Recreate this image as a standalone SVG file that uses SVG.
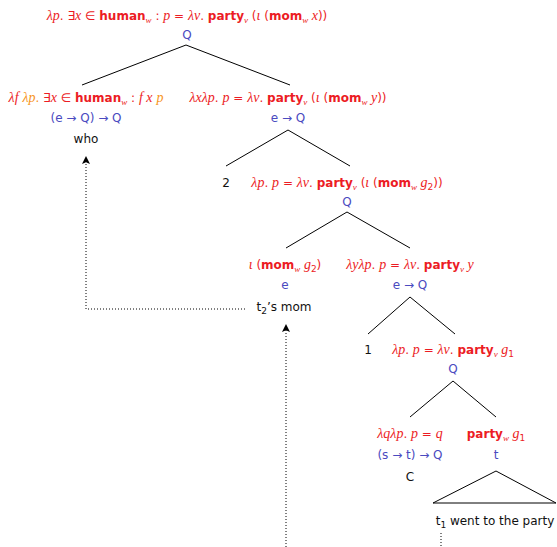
<svg xmlns="http://www.w3.org/2000/svg" width="557" height="547" viewBox="0 0 557 547">
<defs>
<marker id="ah" viewBox="0 0 8 8" refX="7" refY="4" markerWidth="8" markerHeight="8" markerUnits="userSpaceOnUse" orient="auto">
<path d="M0,0 L8,4 L0,8 L1.8,4 Z" fill="#000"/>
</marker>
</defs>
<style>
text { font-family: "DejaVu Sans", "Liberation Sans", sans-serif; font-size: 12px; }
.r { fill: #ec1c24; }
.t { fill: #4a4ac0; }
.k { fill: #111; }
.o { fill: #f7941d; }
.i { font-family: "Liberation Serif", "DejaVu Serif", serif; font-style: italic; font-size: 14px; }
.b { font-weight: bold; }
.s { font-size: 9px; }
.tree line { stroke: #000; stroke-width: 1; fill: none; }
.dot { stroke: #000; stroke-width: 1; stroke-dasharray: 1 2; fill: none; }
</style>

<g id="connectors">
<g class="tree">
<line x1="186" y1="45" x2="82" y2="85"/>
<line x1="186" y1="45" x2="290" y2="85"/>
<line x1="288" y1="130" x2="226" y2="166"/>
<line x1="288" y1="130" x2="350" y2="166"/>
<line x1="347" y1="212" x2="286" y2="248"/>
<line x1="347" y1="212" x2="410" y2="248"/>
<line x1="410" y1="297" x2="368" y2="334"/>
<line x1="410" y1="297" x2="455" y2="334"/>
<line x1="453" y1="381" x2="410" y2="417"/>
<line x1="453" y1="381" x2="496" y2="417"/>
<polygon points="496,471 433,503 556,503" fill="none" stroke="#000" stroke-width="1"/>
</g>
<polyline class="dot" points="245,309 86,309 86,157" marker-end="url(#ah)"/>
<line class="dot" x1="286" y1="547" x2="286" y2="325" marker-end="url(#ah)"/>
<line class="dot" x1="441" y1="533" x2="441" y2="547"/>
</g>

<g id="root">
<text class="r" x="187" y="20" text-anchor="middle"><tspan class="i">λp</tspan>. ∃<tspan class="i">x</tspan> ∈ <tspan class="b">human</tspan><tspan class="s i" dy="3">w</tspan><tspan dy="-3"> : </tspan><tspan class="i">p</tspan> = <tspan class="i">λv</tspan>. <tspan class="b">party</tspan><tspan class="s i" dy="3">v</tspan><tspan dy="-3"> (</tspan><tspan class="i">ι</tspan> (<tspan class="b">mom</tspan><tspan class="s i" dy="3">w</tspan><tspan dy="-3" class="i"> x</tspan>))</text>
<text class="t" x="187" y="39" text-anchor="middle">Q</text>
</g>

<g id="who">
<text class="r" x="86" y="102" text-anchor="middle"><tspan class="i">λf</tspan> <tspan class="i o">λp</tspan><tspan class="o">.</tspan> ∃<tspan class="i">x</tspan> ∈ <tspan class="b">human</tspan><tspan class="s i" dy="3">w</tspan><tspan dy="-3"> : </tspan><tspan class="i">f x</tspan> <tspan class="i o">p</tspan></text>
<text class="t" x="86" y="122" text-anchor="middle">(e → Q) → Q</text>
<text class="k" x="86" y="143" text-anchor="middle">who</text>
</g>

<g id="n1">
<text class="r" x="288" y="102" text-anchor="middle"><tspan class="i">λxλp</tspan>. <tspan class="i">p</tspan> = <tspan class="i">λv</tspan>. <tspan class="b">party</tspan><tspan class="s i" dy="3">v</tspan><tspan dy="-3"> (</tspan><tspan class="i">ι</tspan> (<tspan class="b">mom</tspan><tspan class="s i" dy="3">w</tspan><tspan dy="-3" class="i"> y</tspan>))</text>
<text class="t" x="288" y="122" text-anchor="middle">e → Q</text>
</g>

<g id="idx2">
<text class="k" x="226" y="187" text-anchor="middle">2</text>
</g>

<g id="n2">
<text class="r" x="347" y="187" text-anchor="middle"><tspan class="i">λp</tspan>. <tspan class="i">p</tspan> = <tspan class="i">λv</tspan>. <tspan class="b">party</tspan><tspan class="s i" dy="3">v</tspan><tspan dy="-3"> (</tspan><tspan class="i">ι</tspan> (<tspan class="b">mom</tspan><tspan class="s i" dy="3">w</tspan><tspan dy="-3" class="i"> g</tspan><tspan class="s" dy="3">2</tspan><tspan dy="-3">))</tspan></text>
<text class="t" x="347" y="206" text-anchor="middle">Q</text>
</g>

<g id="mom">
<text class="r" x="285" y="269" text-anchor="middle"><tspan class="i">ι</tspan> (<tspan class="b">mom</tspan><tspan class="s i" dy="3">w</tspan><tspan dy="-3" class="i"> g</tspan><tspan class="s" dy="3">2</tspan><tspan dy="-3">)</tspan></text>
<text class="t" x="285" y="289" text-anchor="middle">e</text>
<text class="k" x="284" y="311" text-anchor="middle">t<tspan class="s" dy="3">2</tspan><tspan dy="-3">’s mom</tspan></text>
</g>

<g id="n3">
<text class="r" x="410" y="269" text-anchor="middle"><tspan class="i">λyλp</tspan>. <tspan class="i">p</tspan> = <tspan class="i">λv</tspan>. <tspan class="b">party</tspan><tspan class="s i" dy="3">v</tspan><tspan dy="-3" class="i"> y</tspan></text>
<text class="t" x="410" y="289" text-anchor="middle">e → Q</text>
</g>

<g id="idx1">
<text class="k" x="368" y="354" text-anchor="middle">1</text>
</g>

<g id="n4">
<text class="r" x="453" y="354" text-anchor="middle"><tspan class="i">λp</tspan>. <tspan class="i">p</tspan> = <tspan class="i">λv</tspan>. <tspan class="b">party</tspan><tspan class="s i" dy="3">v</tspan><tspan dy="-3" class="i"> g</tspan><tspan class="s" dy="3">1</tspan></text>
<text class="t" x="453" y="373" text-anchor="middle">Q</text>
</g>

<g id="C">
<text class="r" x="410" y="438" text-anchor="middle"><tspan class="i">λqλp</tspan>. <tspan class="i">p</tspan> = <tspan class="i">q</tspan></text>
<text class="t" x="410" y="459" text-anchor="middle">(s → t) → Q</text>
<text class="k" x="410" y="481" text-anchor="middle">C</text>
</g>

<g id="ip">
<text class="r" x="496" y="438" text-anchor="middle"><tspan class="b">party</tspan><tspan class="s i" dy="3">w</tspan><tspan dy="-3" class="i"> g</tspan><tspan class="s" dy="3">1</tspan></text>
<text class="t" x="496" y="459" text-anchor="middle">t</text>
<text class="k" x="495" y="525" text-anchor="middle">t<tspan class="s" dy="3">1</tspan><tspan dy="-3"> went to the party</tspan></text>
</g>
</svg>
